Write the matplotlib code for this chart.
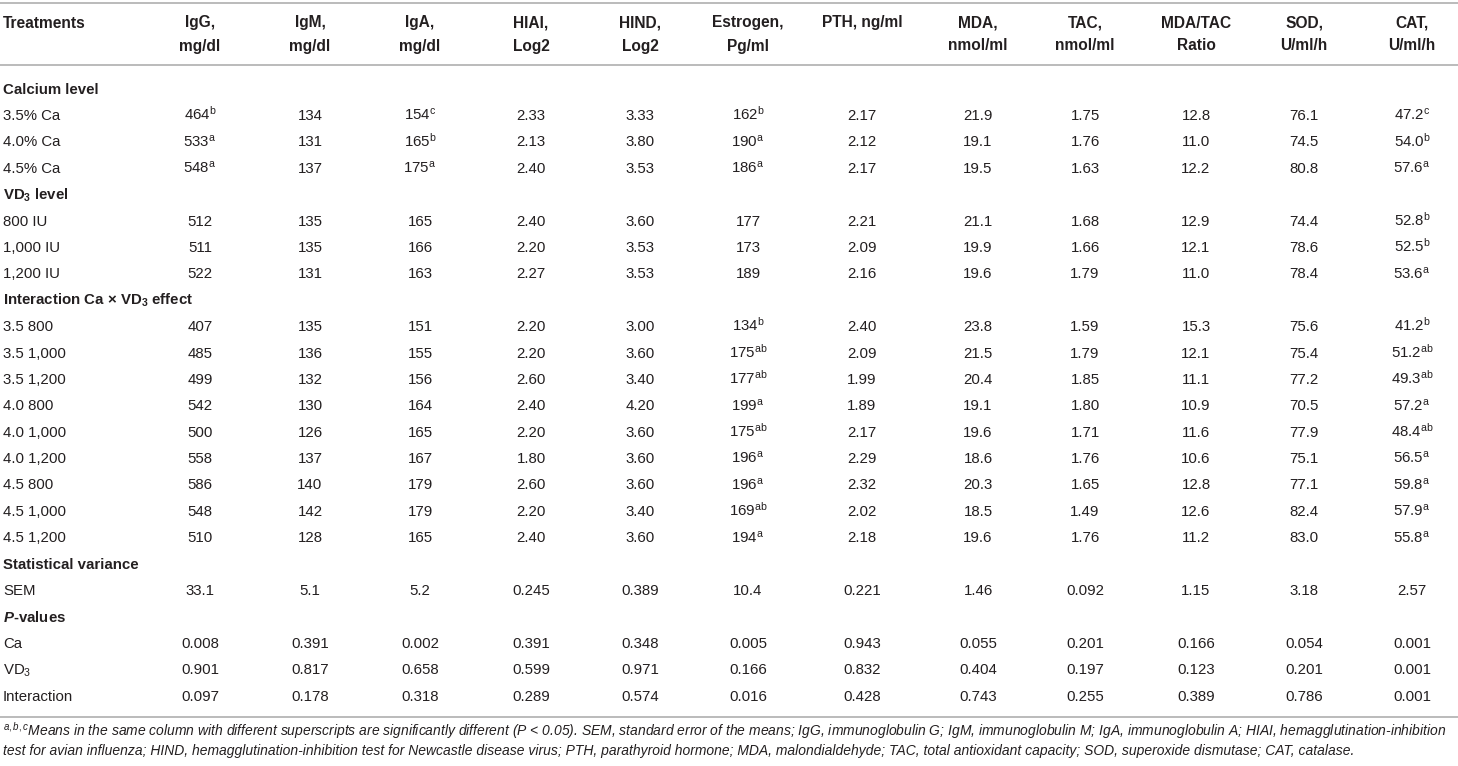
import matplotlib
matplotlib.use("Agg")
import matplotlib.pyplot as plt

plt.rcParams["font.family"] = "Liberation Sans"
plt.rcParams["mathtext.fontset"] = "custom"
plt.rcParams["mathtext.rm"] = "Liberation Sans"
plt.rcParams["mathtext.it"] = "Liberation Sans:italic"
plt.rcParams["mathtext.bf"] = "Liberation Sans:bold"
plt.rcParams["mathtext.bfit"] = "Liberation Sans:italic:bold"

# --- table content ---
header_top = ["IgG,", "IgM,", "IgA,", "HIAI,", "HIND,", "Estrogen,", "PTH, ng/ml",
              "MDA,", "TAC,", "MDA/TAC", "SOD,", "CAT,"]
header_bot = ["mg/dl", "mg/dl", "mg/dl", "Log2", "Log2", "Pg/ml", "",
              "nmol/ml", "nmol/ml", "Ratio", "U/ml/h", "U/ml/h"]

row_labels = ["3.5% Ca", "4.0% Ca", "4.5% Ca",
              "800 IU", "1,000 IU", "1,200 IU",
              "3.5 800", "3.5 1,000", "3.5 1,200", "4.0 800", "4.0 1,000",
              "4.0 1,200", "4.5 800", "4.5 1,000", "4.5 1,200",
              "SEM", "Ca", r"VD$_3$", "Interaction"]

igg = ["464", "533", "548", "512", "511", "522", "407", "485", "499", "542",
       "500", "558", "586", "548", "510", "33.1", "0.008", "0.901", "0.097"]
igm = ["134", "131", "137", "135", "135", "131", "135", "136", "132", "130",
       "126", "137", "140", "142", "128", "5.1", "0.391", "0.817", "0.178"]
iga = ["154", "165", "175", "165", "166", "163", "151", "155", "156", "164",
       "165", "167", "179", "179", "165", "5.2", "0.002", "0.658", "0.318"]
hiai = ["2.33", "2.13", "2.40", "2.40", "2.20", "2.27", "2.20", "2.20", "2.60",
        "2.40", "2.20", "1.80", "2.60", "2.20", "2.40", "0.245", "0.391", "0.599", "0.289"]
hind = ["3.33", "3.80", "3.53", "3.60", "3.53", "3.53", "3.00", "3.60", "3.40",
        "4.20", "3.60", "3.60", "3.60", "3.40", "3.60", "0.389", "0.348", "0.971", "0.574"]
estrogen = ["162", "190", "186", "177", "173", "189", "134", "175", "177", "199",
            "175", "196", "196", "169", "194", "10.4", "0.005", "0.166", "0.016"]
pth = ["2.17", "2.12", "2.17", "2.21", "2.09", "2.16", "2.40", "2.09", "1.99",
       "1.89", "2.17", "2.29", "2.32", "2.02", "2.18", "0.221", "0.943", "0.832", "0.428"]
mda = ["21.9", "19.1", "19.5", "21.1", "19.9", "19.6", "23.8", "21.5", "20.4",
       "19.1", "19.6", "18.6", "20.3", "18.5", "19.6", "1.46", "0.055", "0.404", "0.743"]
tac = ["1.75", "1.76", "1.63", "1.68", "1.66", "1.79", "1.59", "1.79", "1.85",
       "1.80", "1.71", "1.76", "1.65", "1.49", "1.76", "0.092", "0.201", "0.197", "0.255"]
ratio = ["12.8", "11.0", "12.2", "12.9", "12.1", "11.0", "15.3", "12.1", "11.1",
         "10.9", "11.6", "10.6", "12.8", "12.6", "11.2", "1.15", "0.166", "0.123", "0.389"]
sod = ["76.1", "74.5", "80.8", "74.4", "78.6", "78.4", "75.6", "75.4", "77.2",
       "70.5", "77.9", "75.1", "77.1", "82.4", "83.0", "3.18", "0.054", "0.201", "0.786"]
cat = ["47.2", "54.0", "57.6", "52.8", "52.5", "53.6", "41.2", "51.2", "49.3",
       "57.2", "48.4", "56.5", "59.8", "57.9", "55.8", "2.57", "0.001", "0.001", "0.001"]

# significance letters (empty = none)
igg_sup = ["b", "a", "a"] + [""] * 16
iga_sup = ["c", "b", "a"] + [""] * 16
estrogen_sup = ["b", "a", "a", "", "", "",
                "b", "ab", "ab", "a", "ab", "a", "a", "ab", "a", "", "", "", ""]
cat_sup = ["c", "b", "a", "b", "b", "a",
           "b", "ab", "ab", "a", "ab", "a", "a", "a", "a", "", "", "", ""]
no_sup = [""] * 19

columns = [(igg, igg_sup), (igm, no_sup), (iga, iga_sup), (hiai, no_sup),
           (hind, no_sup), (estrogen, estrogen_sup), (pth, no_sup), (mda, no_sup),
           (tac, no_sup), (ratio, no_sup), (sod, no_sup), (cat, cat_sup)]

# section headings inserted before data row index
sections = {0: "Calcium level", 3: r"VD$_\mathbf{3}$ level",
            6: r"Interaction Ca $\mathbf{\times}$ VD$_\mathbf{3}$ effect",
            15: "Statistical variance", 16: r"$\mathbfit{P}$-values"}

footnote1 = (r"$^{\mathit{a,b,c}}$Means in the same column with different superscripts are "
             r"significantly different (P < 0.05). SEM, standard error of the means; IgG, "
             r"immunoglobulin G; IgM, immunoglobulin M; IgA, immunoglobulin A; HIAI, "
             r"hemagglutination-inhibition")
footnote2 = ("test for avian influenza; HIND, hemagglutination-inhibition test for Newcastle "
             "disease virus; PTH, parathyroid hormone; MDA, malondialdehyde; TAC, total "
             "antioxidant capacity; SOD, superoxide dismutase; CAT, catalase.")

# --- layout (pixels) ---
W, H = 1458, 766
col_x = [200, 310, 420, 531, 640, 748, 862, 978, 1085, 1196, 1304, 1412]
row_step = 26.4
first_row_y = 88
text_color = "#231f20"
line_color = "#b5b5b5"
fs = 10.8

fig = plt.figure(figsize=(W / 100, H / 100), dpi=100)


def put(x, y, s, **kw):
    # y is the baseline of the text line in pixels from the top
    fig.text(x / W, 1 - y / H, s, va="baseline", color=text_color,
             fontsize=kw.pop("fontsize", fs), **kw)


def hline(y):
    fig.add_artist(plt.Line2D([0, 1], [1 - y / H, 1 - y / H], color=line_color, lw=1.3))


hline(3)
hline(65)
hline(717)

put(3, 27.5, "Treatments", fontweight="bold", fontsize=11.2)
for x, top, bot in zip(col_x, header_top, header_bot):
    put(x, 27.5, top, ha="center", fontweight="bold", fontsize=11.2)
    if bot:
        put(x, 50.5, bot, ha="center", fontweight="bold", fontsize=11.2)

line = 0
for i, label in enumerate(row_labels):
    if i in sections:
        put(3, first_row_y + 5.5 + line * row_step, sections[i], fontweight="bold")
        line += 1
    y = first_row_y + 5.5 + line * row_step
    put(3, y, label)
    for x, (vals, sups) in zip(col_x, columns):
        s = vals[i]
        if sups[i]:
            s += r"$^{\mathrm{" + sups[i] + "}}$"
        put(x, y, s, ha="center")
    line += 1

put(3, 736, footnote1, fontsize=10.0, style="italic")
put(3, 755, footnote2, fontsize=10.0, style="italic")

fig.savefig("out.png", dpi=100, facecolor="white")
